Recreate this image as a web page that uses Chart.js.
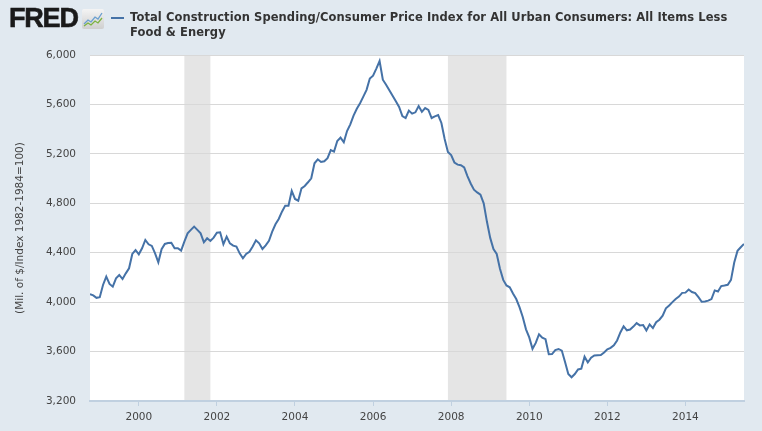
<!DOCTYPE html>
<html>
<head>
<meta charset="utf-8">
<script src="https://cdn.jsdelivr.net/npm/chart.js@4.4.1/dist/chart.umd.min.js"></script>
<style>
  html, body { margin:0; padding:0; background:#e1e9f0; width:762px; height:431px; overflow:hidden; }
  #wrap { position:relative; width:762px; height:431px; }
  #c { position:absolute; left:0; top:0; }
  #logo { position:absolute; left:9px; top:3px; font-family:"Liberation Sans", Arial, sans-serif; font-weight:bold; font-size:27px; letter-spacing:-1.2px; color:#1a1a1a; -webkit-text-stroke:0.6px #1a1a1a; }
  #icon { position:absolute; left:82px; top:9px; }
  #legline { position:absolute; left:111px; top:17px; width:13px; height:2px; background:#4572a7; }
  #title { position:absolute; left:130px; top:10px; font-family:"DejaVu Sans", Verdana, sans-serif; font-weight:bold; font-size:11.5px; line-height:15px; letter-spacing:0.08px; color:#333; white-space:nowrap; }
</style>
</head>
<body>
<div id="wrap">
  <canvas id="c" width="762" height="431"></canvas>
  <div id="logo">FRED</div>
  <svg id="icon" width="22" height="20" viewBox="0 0 22 20">
    <defs><linearGradient id="g" x1="0" y1="0" x2="0" y2="1"><stop offset="0" stop-color="#f4f4f4"/><stop offset="1" stop-color="#cfcfcf"/></linearGradient></defs>
    <rect x="0" y="0" width="22" height="20" rx="2" fill="url(#g)"/>
    <polyline points="2,15 6,11 9,13 13,8 16,10 20,4" fill="none" stroke="#6a9fd0" stroke-width="1.3"/>
    <polyline points="2,17 6,14 9,16 13,12 16,14 20,9" fill="none" stroke="#7cb342" stroke-width="1.3"/>
  </svg>
  <div id="legline"></div>
  <div id="title">Total Construction Spending/Consumer Price Index for All Urban Consumers: All Items Less<br>Food &amp; Energy</div>
</div>
<script>
// ---- data ----
const startYear = 1998;
const startMonth = 10; // October 1998, monthly
const values = [
  4065, 4055, 4035, 4040, 4139, 4206, 4147, 4125, 4193, 4220, 4187, 4233,
  4274, 4390, 4422, 4387, 4436, 4503, 4468, 4455, 4395, 4322, 4428, 4471,
  4478, 4481, 4436, 4436, 4417, 4490, 4557, 4585, 4611, 4585, 4557, 4484,
  4517, 4495, 4522, 4562, 4565, 4468, 4530, 4476, 4457, 4449, 4395, 4355,
  4390, 4408, 4450, 4500, 4476, 4430, 4460, 4497, 4570, 4630, 4673, 4732,
  4781, 4781, 4900, 4835, 4821, 4921, 4940, 4970, 5002, 5124, 5156, 5134,
  5140, 5165, 5231, 5218, 5304, 5331, 5294, 5385, 5439, 5510, 5565, 5610,
  5663, 5718, 5810, 5833, 5890, 5951, 5800, 5760, 5715, 5670, 5625, 5580,
  5505, 5490, 5550, 5525, 5536, 5587, 5540, 5570, 5555, 5490, 5503, 5514,
  5450, 5320, 5215, 5190, 5130, 5113, 5108, 5090, 5020, 4960, 4910, 4888,
  4870, 4800, 4650, 4520, 4430, 4390, 4270, 4180, 4135, 4120, 4070, 4025,
  3960, 3880, 3780, 3715, 3622, 3670, 3740, 3712, 3700, 3578, 3580, 3612,
  3621, 3608, 3515, 3418, 3392, 3418, 3455, 3462, 3559, 3512, 3550, 3568,
  3571, 3572, 3593, 3619, 3630, 3650, 3690, 3755, 3805, 3772, 3778, 3802,
  3830, 3812, 3815, 3770, 3820, 3790, 3838, 3858, 3890, 3950, 3973, 4000,
  4025, 4045, 4075, 4077, 4102, 4082, 4073, 4040, 4003, 4005, 4012, 4025,
  4095, 4086, 4130, 4134, 4140, 4180, 4320, 4415, 4444, 4471
];
const recessionStarts = [2001 + 2/12, 2007 + 11/12];
const recessionEnds   = [2001 + 10/12, 2009 + 5/12];
const xTickYears = [2000, 2002, 2004, 2006, 2008, 2010, 2012, 2014];
const yTickValues = [3200, 3600, 4000, 4400, 4800, 5200, 5600, 6000];
const yTitle = '(Mil. of $/Index 1982-1984=100)';

const points = values.map((v, i) => {
  const mi = (startMonth - 1) + i;
  return { x: startYear + mi / 12, y: v };
});

const bgPlugin = {
  id: 'bg',
  beforeDraw(chart) {
    const { ctx, chartArea: a, scales } = chart;
    ctx.save();
    ctx.fillStyle = '#ffffff';
    ctx.fillRect(a.left, a.top, a.right - a.left, a.bottom - a.top);
    ctx.fillStyle = '#e5e5e5';
    for (let i = 0; i < recessionStarts.length; i++) {
      const x1 = scales.x.getPixelForValue(recessionStarts[i]);
      const x2 = scales.x.getPixelForValue(recessionEnds[i]);
      ctx.fillRect(x1, a.top, x2 - x1, a.bottom - a.top);
    }
    ctx.restore();
  }
};

new Chart(document.getElementById('c'), {
  type: 'line',
  data: {
    datasets: [{
      data: points,
      borderColor: '#4572a7',
      borderWidth: 2,
      pointRadius: 0,
      tension: 0,
      fill: false
    }]
  },
  options: {
    responsive: false,
    animation: false,
    events: [],
    layout: { padding: { left: 0, top: 55, right: 18, bottom: 0 } },
    plugins: { legend: { display: false }, tooltip: { enabled: false } },
    scales: {
      x: {
        type: 'linear',
        min: startYear + (startMonth - 1) / 12,
        max: startYear + (startMonth - 1 + values.length - 1) / 12,
        afterBuildTicks: s => { s.ticks = xTickYears.map(v => ({ value: v })); },
        afterFit: s => { s.height = 30; },
        grid: { drawOnChartArea: false, drawTicks: true, tickLength: 5, color: '#c0d0e0', lineWidth: 1 },
        border: { display: true, color: '#c0d0e0', width: 2 },
        ticks: {
          autoSkip: false, maxRotation: 0, padding: 5,
          color: '#444', font: { family: 'DejaVu Sans', size: 10.5 },
          callback: v => String(v)
        }
      },
      y: {
        min: 3200, max: 6000,
        afterBuildTicks: s => { s.ticks = yTickValues.map(v => ({ value: v })); },
        afterFit: s => { s.width = 90; },
        grid: { drawTicks: false, color: '#d8d8d8', lineWidth: 1 },
        border: { display: false },
        ticks: {
          padding: 14, color: '#444', font: { family: 'DejaVu Sans', size: 10.5 },
          callback: v => v.toLocaleString('en-US')
        },
        title: {
          display: true, text: yTitle, color: '#444',
          font: { family: 'DejaVu Sans', size: 10.5 }, padding: { top: 14, bottom: 0 }
        }
      }
    }
  },
  plugins: [bgPlugin]
});
</script>
</body>
</html>
